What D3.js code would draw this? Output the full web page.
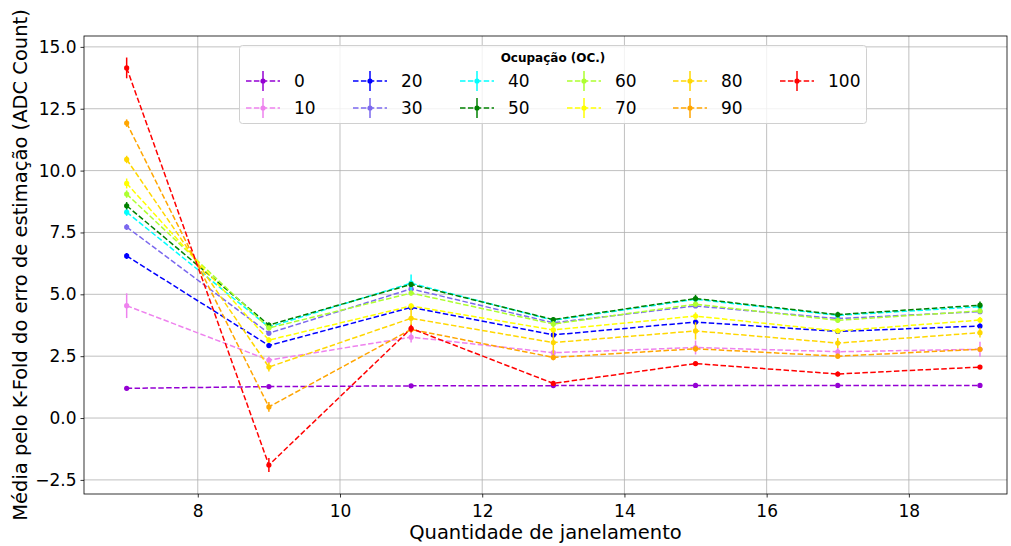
<!DOCTYPE html>
<html><head><meta charset="utf-8">
<script src="https://cdn.jsdelivr.net/npm/d3@7"></script>
<style>body{margin:0;background:#fff;} text{font-family:"DejaVu Sans",sans-serif;}</style>
</head><body><svg id="c" width="1011" height="546"></svg>
<script>
const xValues = [7, 9, 11, 13, 15, 17, 19];
const seriesNames = ["0","10","20","30","40","50","60","70","80","90","100"];
const seriesColors = ["#9400D3","#EE82EE","#0000FF","#7B68EE","#00FFFF","#008000","#ADFF2F","#FFFF00","#FFD700","#FFA500","#FF0000"];
const v0   = [1.20, 1.27, 1.30, 1.31, 1.32, 1.32, 1.32];
const v10  = [4.54, 2.34, 3.27, 2.64, 2.85, 2.68, 2.78];
const v20  = [6.55, 2.93, 4.47, 3.36, 3.88, 3.50, 3.72];
const v30  = [7.72, 3.43, 5.22, 3.85, 4.53, 4.02, 4.30];
const v40  = [8.32, 3.68, 5.45, 3.95, 4.80, 4.15, 4.50];
const v50  = [8.58, 3.76, 5.40, 3.98, 4.83, 4.18, 4.56];
const v60  = [9.05, 3.64, 5.05, 3.80, 4.60, 3.95, 4.33];
const v70  = [9.48, 3.15, 4.53, 3.56, 4.12, 3.52, 3.96];
const v80  = [10.45, 2.06, 4.03, 3.05, 3.52, 3.03, 3.45];
const v90  = [11.92, 0.45, 3.58, 2.45, 2.80, 2.50, 2.78];
const v100 = [14.15, -1.90, 3.62, 1.40, 2.20, 1.78, 2.06];
const e0   = [0.05, 0.05, 0.05, 0.05, 0.05, 0.05, 0.05];
const e10  = [0.50, 0.15, 0.22, 0.12, 0.28, 0.15, 0.30];
const e20  = [0.12, 0.10, 0.08, 0.08, 0.10, 0.08, 0.10];
const e30  = [0.12, 0.10, 0.10, 0.08, 0.08, 0.08, 0.08];
const e40  = [0.15, 0.12, 0.35, 0.08, 0.10, 0.10, 0.10];
const e50  = [0.15, 0.10, 0.10, 0.10, 0.15, 0.12, 0.15];
const e60  = [0.15, 0.10, 0.10, 0.12, 0.10, 0.10, 0.10];
const e70  = [0.20, 0.12, 0.10, 0.10, 0.15, 0.10, 0.12];
const e80  = [0.15, 0.18, 0.45, 0.45, 0.35, 0.20, 0.20];
const e90  = [0.15, 0.20, 0.12, 0.12, 0.12, 0.10, 0.10];
const e100 = [0.42, 0.28, 0.15, 0.10, 0.08, 0.10, 0.08];
const seriesValues = [v0,v10,v20,v30,v40,v50,v60,v70,v80,v90,v100];
const seriesErrors = [e0,e10,e20,e30,e40,e50,e60,e70,e80,e90,e100];
const xTicks = [8, 10, 12, 14, 16, 18];
const yTicks = [-2.5, 0, 2.5, 5, 7.5, 10, 12.5, 15];
const legendTitle = "Ocupação (OC.)";
const xLabel = "Quantidade de janelamento";
const yLabel = "Média pelo K-Fold do erro de estimação (ADC Count)";

const L = 84, R = 1007, T = 36, B = 494;
const svg = d3.select("#c");
const x = d3.scaleLinear().domain([6.4, 19.38]).range([L, R]);
const y = d3.scaleLinear().domain([-3.07, 15.44]).range([B, T]);

// grid
const g = svg.append("g");
g.selectAll(".gx").data(xTicks).join("line")
  .attr("x1", d => x(d)).attr("x2", d => x(d)).attr("y1", T).attr("y2", B)
  .attr("stroke", "#b0b0b0").attr("stroke-width", 0.8);
g.selectAll(".gy").data(yTicks).join("line")
  .attr("y1", d => y(d)).attr("y2", d => y(d)).attr("x1", L).attr("x2", R)
  .attr("stroke", "#b0b0b0").attr("stroke-width", 0.8);

// axes
const fmt = d => (d < 0 ? "\u2212" : "") + Math.abs(d).toFixed(1);
const xAxis = svg.append("g").attr("transform", `translate(0,${B})`)
  .call(d3.axisBottom(x).tickValues(xTicks).tickSize(3.5).tickPadding(4).tickFormat(d3.format("d")));
const yAxis = svg.append("g").attr("transform", `translate(${L},0)`)
  .call(d3.axisLeft(y).tickValues(yTicks).tickSize(3.5).tickPadding(4).tickFormat(fmt));
[xAxis, yAxis].forEach(a => {
  a.select(".domain").remove();
  a.selectAll("line").attr("stroke", "#000").attr("stroke-width", 0.8);
  a.selectAll("text").attr("font-size", 17).attr("fill", "#000").attr("font-family", "DejaVu Sans");
});
xAxis.selectAll("text").attr("dy", "0.9em");

// series
const line = d3.line().x((d, i) => x(xValues[i])).y(d => y(d));
seriesValues.forEach((vals, s) => {
  const c = seriesColors[s];
  const sg = svg.append("g");
  sg.append("path").datum(vals).attr("d", line).attr("fill", "none")
    .attr("stroke", c).attr("stroke-width", 1.5).attr("stroke-dasharray", "5.5,2.4");
  sg.selectAll("line.err").data(vals).join("line")
    .attr("x1", (d, i) => x(xValues[i])).attr("x2", (d, i) => x(xValues[i]))
    .attr("y1", (d, i) => y(d - seriesErrors[s][i])).attr("y2", (d, i) => y(d + seriesErrors[s][i]))
    .attr("stroke", c).attr("stroke-width", 1.5);
  sg.selectAll("circle").data(vals).join("circle")
    .attr("cx", (d, i) => x(xValues[i])).attr("cy", d => y(d)).attr("r", 2.6).attr("fill", c);
});

// frame
svg.append("rect").attr("x", L).attr("y", T).attr("width", R - L).attr("height", B - T)
  .attr("fill", "none").attr("stroke", "#000").attr("stroke-width", 0.8);

// labels
svg.append("text").attr("x", (L + R) / 2).attr("y", 539).attr("text-anchor", "middle")
  .attr("font-size", 19.5).text(xLabel);
svg.append("text").attr("transform", `translate(27,${(T + B) / 2}) rotate(-90)`)
  .attr("text-anchor", "middle").attr("font-size", 19.5).text(yLabel);

// legend
const lg = svg.append("g");
lg.append("rect").attr("x", 239.5).attr("y", 45.5).attr("width", 627).attr("height", 78).attr("rx", 3)
  .attr("fill", "rgba(255,255,255,0.8)").attr("stroke", "#d0d0d0").attr("stroke-width", 1);
lg.append("text").attr("x", 553).attr("y", 62).attr("text-anchor", "middle")
  .attr("font-size", 12).attr("font-weight", "bold").text(legendTitle);
const colX = [246, 353, 460, 567, 673, 780];
const rowY = [81, 108];
seriesNames.forEach((nm, s) => {
  const cx = colX[Math.floor(s / 2)], cy = rowY[s % 2], c = seriesColors[s];
  lg.append("line").attr("x1", cx).attr("x2", cx + 34).attr("y1", cy).attr("y2", cy)
    .attr("stroke", c).attr("stroke-width", 1.5).attr("stroke-dasharray", "5.5,2.4");
  lg.append("line").attr("x1", cx + 17).attr("x2", cx + 17).attr("y1", cy - 10).attr("y2", cy + 10)
    .attr("stroke", c).attr("stroke-width", 1.5);
  lg.append("circle").attr("cx", cx + 17).attr("cy", cy).attr("r", 2.6).attr("fill", c);
  lg.append("text").attr("x", cx + 48).attr("y", cy).attr("dy", "0.35em")
    .attr("font-size", 17).text(nm);
});
</script></body></html>
